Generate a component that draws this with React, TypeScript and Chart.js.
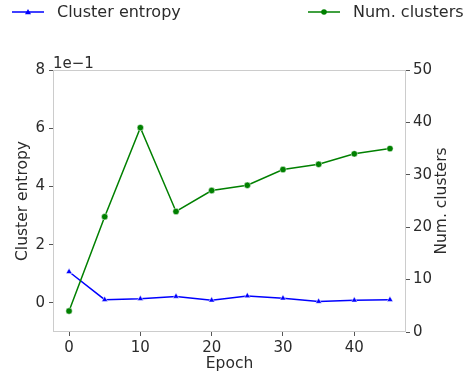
import React, { useEffect, useRef } from "react";
import { Chart, registerables } from "chart.js";

Chart.register(...registerables);

const epochs = [0, 5, 10, 15, 20, 25, 30, 35, 40, 45];
const clusterEntropy = [0.107, 0.011, 0.014, 0.022, 0.009, 0.024, 0.016, 0.0045, 0.009, 0.011];
const numClusters = [4, 22, 39, 23, 27, 28, 31, 32, 34, 35];
const epochTicks = [0, 10, 20, 30, 40];
const entropyTicks = [0, 2, 4, 6, 8]; // in units of 1e-1
const clusterTicks = [0, 10, 20, 30, 40, 50];

const FONT = "'DejaVu Sans', sans-serif";
const TEXT = "#2b2b2b";
const BLUE = "#0000ff";
const GREEN = "#008000";

const decorPlugin = {
  id: "decor",
  beforeDatasetsDraw(chart: any) {
    const { ctx, chartArea } = chart;
    ctx.save();
    ctx.strokeStyle = "#cccccc";
    ctx.lineWidth = 1;
    ctx.strokeRect(chartArea.left + 0.5, chartArea.top + 0.5, chartArea.right - chartArea.left - 1, chartArea.bottom - chartArea.top - 1);
    ctx.restore();
  },
  afterDraw(chart: any) {
    const { ctx, chartArea } = chart;
    ctx.save();
    ctx.fillStyle = TEXT;
    ctx.font = `15px ${FONT}`;
    ctx.textAlign = "left";
    ctx.textBaseline = "alphabetic";
    ctx.fillText("1e\u22121", chartArea.left, chartArea.top - 2);
    ctx.save();
    ctx.font = `15.5px ${FONT}`;
    ctx.translate(442, (chartArea.top + chartArea.bottom) / 2);
    ctx.rotate(-Math.PI / 2);
    ctx.textAlign = "center";
    ctx.textBaseline = "middle";
    ctx.fillText("Num. clusters", 0, 0);
    ctx.restore();
    const items = [
      { label: "Cluster entropy", color: BLUE, style: "triangle", x: 12 },
      { label: "Num. clusters", color: GREEN, style: "circle", x: 308 },
    ];
    const y = 12;
    ctx.font = `16px ${FONT}`;
    items.forEach((it) => {
      ctx.strokeStyle = it.color;
      ctx.lineWidth = 1.5;
      ctx.beginPath();
      ctx.moveTo(it.x, y);
      ctx.lineTo(it.x + 32, y);
      ctx.stroke();
      ctx.fillStyle = it.color;
      ctx.beginPath();
      const cx = it.x + 16;
      if (it.style === "circle") {
        ctx.arc(cx, y, 2.8, 0, Math.PI * 2);
      } else {
        ctx.moveTo(cx, y - 3);
        ctx.lineTo(cx + 3, y + 2.2);
        ctx.lineTo(cx - 3, y + 2.2);
        ctx.closePath();
      }
      ctx.fill();
      ctx.fillStyle = TEXT;
      ctx.textAlign = "left";
      ctx.textBaseline = "middle";
      ctx.fillText(it.label, it.x + 45, y + 1);
    });
    ctx.restore();
  },
};

export default function App() {
  const ref = useRef<HTMLCanvasElement>(null);
  useEffect(() => {
    if (!ref.current) return;
    const tickFont = { family: FONT, size: 15 };
    const titleFont = { family: FONT, size: 15.5 };
    const gridOpts = { display: true, drawOnChartArea: false, drawTicks: true, tickLength: 4, color: "#555555", lineWidth: 1 };
    const chart = new Chart(ref.current, {
      type: "line",
      data: {
        datasets: [
          {
            label: "Cluster entropy",
            data: epochs.map((e, i) => ({ x: e, y: clusterEntropy[i] })),
            borderColor: BLUE,
            backgroundColor: BLUE,
            borderWidth: 1.5,
            pointStyle: "triangle",
            pointRadius: 3.5,
            pointBorderColor: "#ffffff",
            pointBorderWidth: 0.5,
            yAxisID: "y",
            order: 1,
          },
          {
            label: "Num. clusters",
            data: epochs.map((e, i) => ({ x: e, y: numClusters[i] })),
            borderColor: GREEN,
            backgroundColor: GREEN,
            borderWidth: 1.5,
            pointStyle: "circle",
            pointRadius: 3.2,
            pointBorderColor: "#ffffff",
            pointBorderWidth: 0.5,
            yAxisID: "y1",
            order: 0,
          },
        ],
      },
      options: {
        animation: false,
        responsive: false,
        layout: { padding: { top: 70, left: 0, right: 0, bottom: 0 } },
        plugins: { legend: { display: false }, tooltip: { enabled: false } },
        scales: {
          x: {
            type: "linear",
            min: -2.25,
            max: 47.25,
            afterBuildTicks: (s: any) => { s.ticks = epochTicks.map((v) => ({ value: v })); },
            afterFit: (s: any) => { s.height = 45; },
            ticks: { font: tickFont, color: TEXT, padding: 3, maxRotation: 0, callback: (v: any) => String(v) },
            grid: gridOpts,
            border: { display: false },
            title: { display: true, text: "Epoch", font: titleFont, color: TEXT, padding: { top: 0, bottom: 4 } },
          },
          y: {
            type: "linear",
            position: "left",
            min: -0.1,
            max: 0.8,
            afterBuildTicks: (s: any) => { s.ticks = entropyTicks.map((v) => ({ value: v / 10 })); },
            afterFit: (s: any) => { s.width = 53; },
            ticks: { font: tickFont, color: TEXT, padding: 4, callback: (v: any) => String(Math.round(v * 10)) },
            grid: gridOpts,
            border: { display: false },
            title: { display: true, text: "Cluster entropy", font: titleFont, color: TEXT, padding: { top: 14, bottom: 0 } },
          },
          y1: {
            type: "linear",
            position: "right",
            min: 0,
            max: 50,
            afterBuildTicks: (s: any) => { s.ticks = clusterTicks.map((v) => ({ value: v })); },
            afterFit: (s: any) => { s.width = 59; },
            ticks: { font: tickFont, color: TEXT, padding: 3, callback: (v: any) => String(v) },
            grid: gridOpts,
            border: { display: false },
            title: { display: false },
          },
        },
      } as any,
      plugins: [decorPlugin],
    });
    return () => chart.destroy();
  }, []);
  return (
    <div style={{ position: "fixed", left: 0, top: 0, width: 465, height: 377, background: "#ffffff" }}>
      <canvas ref={ref} width={465} height={377} />
    </div>
  );
}
